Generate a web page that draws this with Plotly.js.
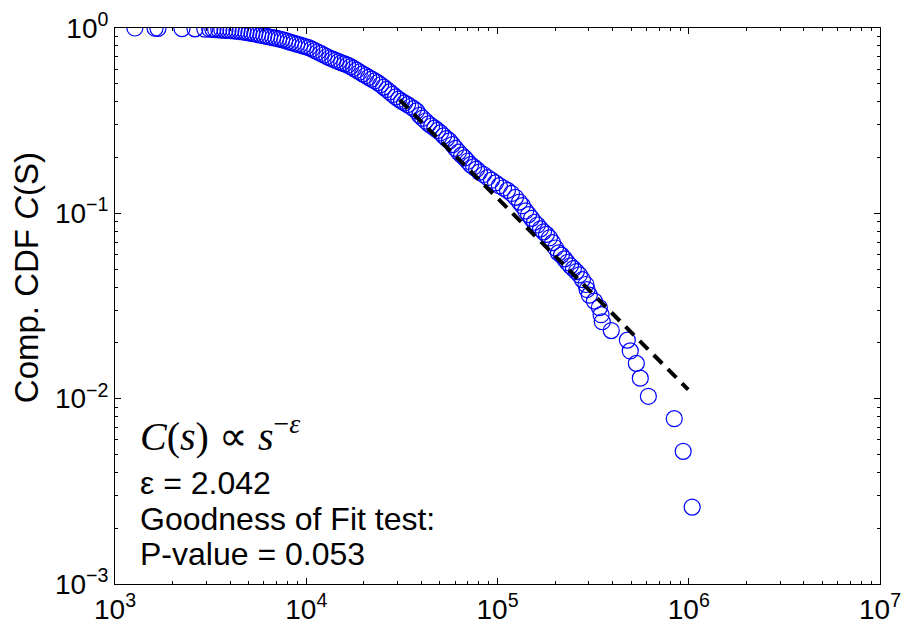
<!DOCTYPE html>
<html>
<head>
<meta charset="utf-8">
<script src="https://cdn.plot.ly/plotly-3.0.1.min.js"></script>
<style>html,body{margin:0;padding:0;background:#fff;}#chart{width:903px;height:629px;}</style>
</head>
<body>
<div id="chart"></div>
<script>
// Event size s (x) and complementary CDF C(s) (y)
const sizeS = [
  1270, 1620, 1677, 2240, 2620, 2950, 3130,
  3250, 3360, 3490, 3620, 3760, 3900, 4040, 4190, 4340, 4500,
  4670, 4840, 5010, 5200, 5380, 5580, 5790, 6000, 6220, 6440,
  6680, 6930, 7180, 7450, 7720, 8010, 8300, 8610, 8920, 9250,
  9600, 9950, 10310, 10690, 11090, 11490, 11910, 12350, 12800, 13270,
  13760, 14260, 14780, 15330, 15890, 16470, 17080, 17700, 18350, 19010,
  19720, 20440, 21200, 21990, 22800, 23640, 24500, 25400, 26340, 27290,
  28300, 29340, 30420, 31510, 32670, 33870, 35100, 36400, 37730, 39170,
  40600, 42100, 43650, 45260, 46930, 48650, 50380, 52250, 54150, 56100,
  58200, 60400, 62600, 64900, 67300, 69800, 72300, 75000, 77700, 80500,
  84500, 88700, 93000, 97600, 102300, 107500, 112800, 118400, 124200, 130300,
  135000, 140400, 145300, 150600, 156000, 161700, 167800, 174000, 180300, 187000,
  194000, 201000, 208400, 216000, 224000, 232000, 240600, 249400, 258500, 267900,
  278000, 290000, 294000, 302000, 321000, 341000, 348000, 353000, 393500, 477500,
  494500, 532000, 558000, 615000, 840000, 935000, 1042000
];
const ccdfC = [
  1.0, 0.9974, 0.9948, 0.9922, 0.9897, 0.9871, 0.9845,
  0.983, 0.980, 0.977, 0.975, 0.972, 0.970, 0.968, 0.964, 0.961, 0.957,
  0.952, 0.947, 0.942, 0.936, 0.929, 0.922, 0.915, 0.908, 0.901, 0.894,
  0.888, 0.881, 0.874, 0.866, 0.857, 0.847, 0.837, 0.828, 0.819, 0.810,
  0.801, 0.792, 0.783, 0.770, 0.756, 0.742, 0.729, 0.715, 0.702, 0.689,
  0.679, 0.669, 0.659, 0.649, 0.640, 0.630, 0.619, 0.606, 0.592, 0.579,
  0.566, 0.554, 0.542, 0.530, 0.519, 0.507, 0.494, 0.480, 0.466, 0.452,
  0.438, 0.425, 0.413, 0.403, 0.394, 0.386, 0.377, 0.367, 0.357, 0.338,
  0.326, 0.315, 0.304, 0.296, 0.288, 0.280, 0.272, 0.262, 0.253, 0.246,
  0.235, 0.224, 0.214, 0.206, 0.199, 0.191, 0.183, 0.178, 0.173, 0.167,
  0.162, 0.156, 0.151, 0.146, 0.141, 0.137, 0.133, 0.128, 0.122, 0.115,
  0.110, 0.103, 0.0985, 0.094, 0.0895, 0.0865, 0.0825, 0.0795, 0.077, 0.0738,
  0.0695, 0.065, 0.0612, 0.0595, 0.0568, 0.0543, 0.0521, 0.0503, 0.0485, 0.0466,
  0.0439, 0.0413, 0.0388, 0.0362, 0.0336, 0.0310, 0.0284, 0.0260, 0.0233, 0.0207,
  0.0181, 0.0155, 0.0129, 0.0103, 0.0078, 0.0052, 0.0026
];
// Power-law fit line endpoints
const fitS = [30800, 993000];
const fitC = [0.409, 0.0112];

// Tick labels
const xTickVals = [1e3, 1e4, 1e5, 1e6, 1e7];
const xTickText = ['10<sup>3</sup>', '10<sup>4</sup>', '10<sup>5</sup>', '10<sup>6</sup>', '10<sup>7</sup>'];
const yTickVals = [1e-3, 1e-2, 1e-1, 1];
const yTickText = ['10<sup>\u22123</sup>', '10<sup>\u22122</sup>', '10<sup>\u22121</sup>', '10<sup>0</sup>'];

const yTitle = 'Comp. CDF <i>C</i>(S)';
const notes = ['\u03b5 = 2.042', 'Goodness of Fit test:', 'P-value = 0.053'];

function minorVals(lo, hi) {
  const v = [];
  for (let e = lo; e < hi; e++) for (let d = 2; d <= 9; d++) v.push(d * Math.pow(10, e));
  return v;
}

const traces = [
  {
    x: sizeS, y: ccdfC, type: 'scatter', mode: 'markers',
    marker: {symbol: 'circle-open', size: 16, color: 'rgb(0,0,255)', line: {width: 1.2, color: 'rgb(0,0,255)'}},
    hoverinfo: 'x+y', showlegend: false
  },
  {
    x: fitS, y: fitC, type: 'scatter', mode: 'lines',
    line: {color: 'black', width: 4, dash: '12px,8px'},
    showlegend: false
  }
];

const tickFont = {family: 'Liberation Sans, Arial, sans-serif', size: 28, color: 'black'};
const axisCommon = {
  type: 'log', showgrid: false, zeroline: false, showline: true, linecolor: 'black', linewidth: 1,
  mirror: 'ticks', ticks: 'inside', ticklen: 6, tickwidth: 1, tickcolor: 'black',
  tickfont: tickFont, tickmode: 'array'
};

const sansFont = 'Liberation Sans, Arial, sans-serif';
const noteY = [483, 519, 554];

const layout = {
  width: 903, height: 629,
  margin: {l: 115, r: 23, t: 28, b: 45, pad: 0},
  paper_bgcolor: 'white', plot_bgcolor: 'white',
  xaxis: Object.assign({}, axisCommon, {
    range: [3, 7], tickvals: xTickVals, ticktext: xTickText,
    minor: {tickmode: 'array', tickvals: minorVals(3, 7), ticks: 'inside', ticklen: 3, tickcolor: 'black', showgrid: false}
  }),
  yaxis: Object.assign({}, axisCommon, {
    range: [-3, 0], tickvals: yTickVals, ticktext: yTickText,
    minor: {tickmode: 'array', tickvals: minorVals(-3, 0), ticks: 'inside', ticklen: 3, tickcolor: 'black', showgrid: false}
  }),
  annotations: [
    {text: yTitle, xref: 'paper', yref: 'paper', x: 0, y: 0.55, xshift: -89, textangle: -90,
     xanchor: 'center', yanchor: 'middle', showarrow: false,
     font: {family: sansFont, size: 33, color: 'black'}},
    {text: '<i>C</i>(<i>s</i>) \u221d <i>s</i><sup>\u2212<i>\u03b5</i></sup>', xref: 'paper', yref: 'paper',
     x: 0, xshift: 23, y: (584 - 433) / 556, xanchor: 'left', yanchor: 'middle', showarrow: false,
     font: {family: 'Liberation Serif, Times New Roman, serif', size: 40, color: 'black'}}
  ].concat(notes.map((t, i) => ({
    text: t, xref: 'paper', yref: 'paper', x: 0, xshift: 23, y: (584 - noteY[i]) / 556,
    xanchor: 'left', yanchor: 'middle', showarrow: false,
    font: {family: sansFont, size: 32, color: 'black'}
  })))
};

Plotly.newPlot('chart', traces, layout, {displayModeBar: false, staticPlot: true});
</script>
</body>
</html>
